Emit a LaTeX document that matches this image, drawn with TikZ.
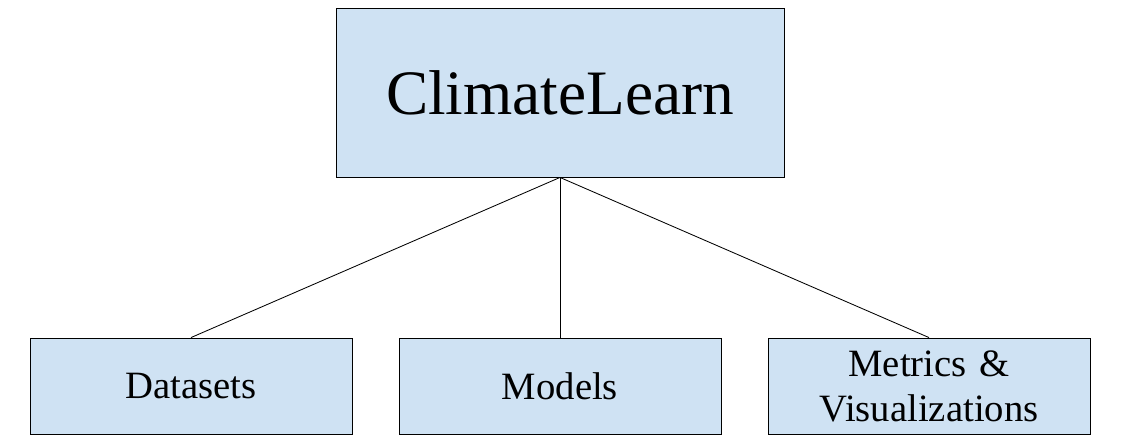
\documentclass[tikz,border=0pt]{standalone}
\usepackage{fontspec}
\setmainfont{Liberation Serif}
\definecolor{boxblue}{RGB}{207,226,243}
\tikzset{%
  modulo/.style={draw, fill=boxblue, line width=0.6pt, text centered, inner sep=0pt},
  root/.style={modulo, minimum width=11.2cm, minimum height=4.225cm, font=\fontsize{45}{54}\selectfont},
  leaf/.style={modulo, minimum width=8.05cm, minimum height=2.4cm, text width=8cm, font=\fontsize{27.5}{32}\selectfont},
  line/.style={draw, line width=0.6pt, color=black},
}
\begin{document}
\begin{tikzpicture}[x=0.025cm, y=-0.025cm]
\useasboundingbox (0,0) rectangle (1121,442);
\node[root] (cl) at (560,92.5) {ClimateLearn};
\node[leaf] (data) at (191,386) {Datasets};
\node[leaf] (mod) at (560,386) {Models};
\node[leaf] (met) at (929,386) {Metrics \&\\Visualizations};
\draw[line] (cl.south) -- (data.north);
\draw[line] (cl.south) -- (mod.north);
\draw[line] (cl.south) -- (met.north);
\end{tikzpicture}
\end{document}
